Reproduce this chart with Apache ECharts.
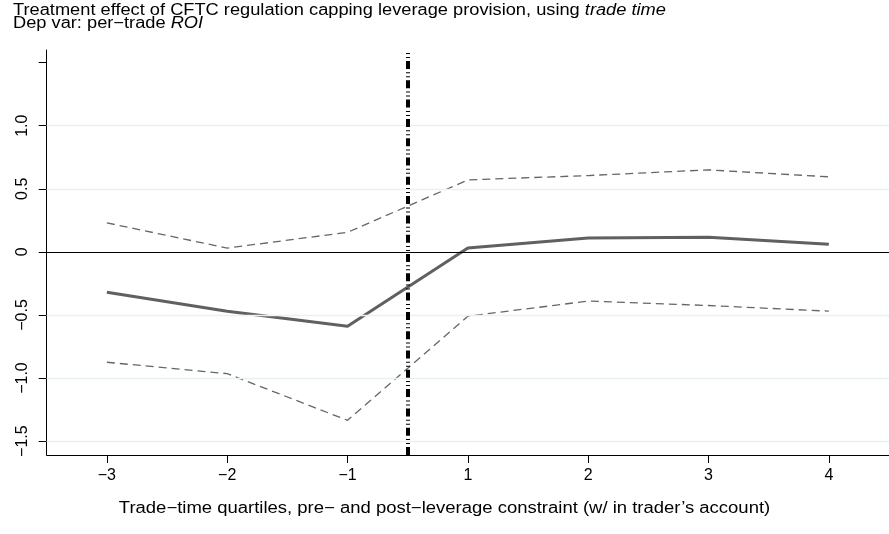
<!DOCTYPE html>
<html>
<head>
<meta charset="utf-8">
<script src="https://cdn.jsdelivr.net/npm/echarts@6/dist/echarts.min.js"></script>
<style>html,body{margin:0;padding:0;background:#fff}#c{width:889px;height:534px}</style>
</head>
<body>
<div id="c"></div>
<script>
var categories = ['\u22123', '\u22122', '\u22121', '1', '2', '3', '4'];
var coef  = [-0.32, -0.47, -0.59, 0.03, 0.11, 0.115, 0.06];
var upper = [0.23, 0.03, 0.155, 0.57, 0.605, 0.65, 0.595];
var lower = [-0.875, -0.965, -1.335, -0.51, -0.39, -0.425, -0.47];
var yTicks = [-1.5, -1, -0.5, 0, 0.5, 1, 1.5];
var yLabels = [-1.5, -1, -0.5, 0, 0.5, 1];
var gridValues = [-1.5, -1, -0.5, 0.5, 1];
var treatmentAt = 2.5;
var titleLine1 = 'Treatment effect of CFTC regulation capping leverage provision, using ';
var titleLine1It = 'trade time';
var titleLine2 = 'Dep var: per\u2212trade ';
var titleLine2It = 'ROI';
var xTitle = 'Trade\u2212time quartiles, pre\u2212 and post\u2212leverage constraint (w/ in trader\u2019s account)';

var idx = categories.map(function (c, i) { return i; });
function pts(arr) { return arr.map(function (v, i) { return [i, v]; }); }
var FONT = 'Liberation Sans, Arial, Helvetica, sans-serif';
var STRETCH = 1.14;
var richStyle = {
  n: {fontFamily: FONT, fontSize: 16, fill: '#000'},
  i: {fontFamily: FONT, fontSize: 16, fill: '#000', fontStyle: 'italic'}
};

var chart = echarts.init(document.getElementById('c'), null, {renderer: 'canvas'});
chart.setOption({
  animation: false,
  backgroundColor: '#fff',
  graphic: [{
    type: 'text', x: 13, y: 11, scaleX: STRETCH,
    style: {text: '{n|' + titleLine1 + '}{i|' + titleLine1It + '}', rich: richStyle, fill: '#000', textAlign: 'left', textVerticalAlign: 'middle'}
  }, {
    type: 'text', x: 13, y: 24, scaleX: STRETCH,
    style: {text: '{n|' + titleLine2 + '}{i|' + titleLine2It + '}', rich: richStyle, fill: '#000', textAlign: 'left', textVerticalAlign: 'middle'}
  }, {
    type: 'text', x: 444.5, y: 509, scaleX: 1.155,
    style: {text: xTitle, font: '16px ' + FONT, fill: '#000', textAlign: 'center', textVerticalAlign: 'middle'}
  }],
  grid: {left: 46.7, right: -2, top: 50, bottom: 79, containLabel: false},
  xAxis: {
    type: 'value', min: -0.5, max: 6.5,
    axisLine: {show: true, onZero: false, lineStyle: {color: '#000', width: 1}},
    axisTick: {show: true, length: 8, lineStyle: {color: '#000'}, customValues: idx},
    axisLabel: {
      customValues: idx, margin: 13,
      fontFamily: FONT, fontSize: 16, color: '#000',
      formatter: function (v) { return categories[Math.round(v)]; }
    },
    splitLine: {show: false}
  },
  yAxis: {
    type: 'value', min: -1.61, max: 1.6,
    axisLine: {show: true, onZero: false, lineStyle: {color: '#000', width: 1}},
    axisTick: {show: true, length: 8, lineStyle: {color: '#000'}, customValues: yTicks},
    axisLabel: {
      customValues: yLabels, rotate: 90, margin: 16,
      fontFamily: FONT, fontSize: 16, color: '#000',
      formatter: function (v) {
        if (Math.abs(v) < 1e-9) return '0';
        var s = Math.abs(v).toFixed(1);
        return (v < 0 ? '\u2212' : '') + s;
      }
    },
    splitLine: {show: false}
  },
  series: [{
    type: 'line', name: 'grid', data: [], silent: true, z: 1,
    markLine: {
      silent: true, symbol: 'none', label: {show: false}, animation: false,
      lineStyle: {color: '#e9f1f3', width: 1.3, type: 'solid'},
      data: gridValues.map(function (v) { return {yAxis: v}; })
    }
  }, {
    type: 'line', name: 'zero', data: [], silent: true, z: 2,
    markLine: {
      silent: true, symbol: 'none', label: {show: false}, animation: false,
      lineStyle: {color: '#000', width: 1.2, type: 'solid'},
      data: [{yAxis: 0}]
    }
  }, {
    type: 'line', name: 'upper', data: pts(upper), symbol: 'none', z: 3,
    lineStyle: {color: '#666', width: 1.3, type: [8, 5]}
  }, {
    type: 'line', name: 'lower', data: pts(lower), symbol: 'none', z: 3,
    lineStyle: {color: '#666', width: 1.3, type: [8, 5]}
  }, {
    type: 'line', name: 'coef', data: pts(coef), symbol: 'none', z: 4,
    lineStyle: {color: '#606060', width: 3}
  }, {
    type: 'line', name: 'treat', data: [], silent: true, z: 5,
    markLine: {
      silent: true, symbol: 'none', label: {show: false}, animation: false,
      lineStyle: {color: '#000', width: 4, type: [8, 3, 1, 3, 1, 3.3]},
      data: [{xAxis: treatmentAt}]
    }
  }]
});
</script>
</body>
</html>
